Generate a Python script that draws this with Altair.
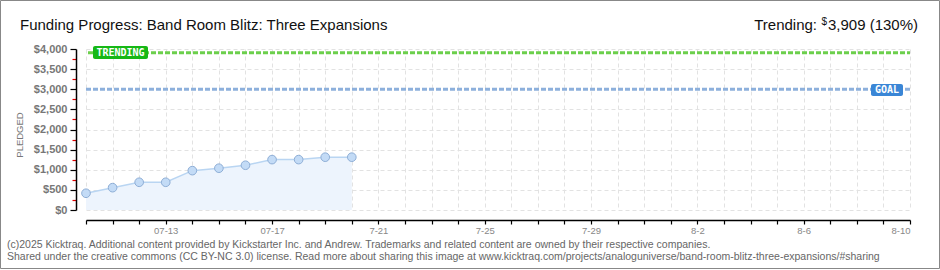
import altair as alt
import pandas as pd
from datetime import datetime, timezone

# ---- data ----
dates = ["2025-07-10", "2025-07-11", "2025-07-12", "2025-07-13", "2025-07-14",
         "2025-07-15", "2025-07-16", "2025-07-17", "2025-07-18", "2025-07-19",
         "2025-07-20"]
pledged = [416, 555, 689, 689, 978, 1038, 1112, 1252, 1252, 1312, 1312]
trending_value = 3909
goal_value = 3000
tick_label_days = ["2025-07-13", "2025-07-17", "2025-07-21", "2025-07-25",
                   "2025-07-29", "2025-08-02", "2025-08-06", "2025-08-10"]
tick_labels = ["07-13", "07-17", "7-21", "7-25", "7-29", "8-2", "8-6", "8-10"]
x_start, x_end = "2025-07-10", "2025-08-10"
title_text = "Funding Progress: Band Room Blitz: Three Expansions"
trend_head = "Trending:"
trend_currency = "$"
trend_amount = "3,909 (130%)"
footer_lines = [
    "(c)2025 Kicktraq. Additional content provided by Kickstarter Inc. and Andrew. Trademarks and related content are owned by their respective companies.",
    "Shared under the creative commons (CC BY-NC 3.0) license. Read more about sharing this image at www.kicktraq.com/projects/analoguniverse/band-room-blitz-three-expansions/#sharing",
]


def ms(s):
    return int(datetime.strptime(s, "%Y-%m-%d").replace(tzinfo=timezone.utc).timestamp() * 1000)


df = pd.DataFrame({"date": [ms(d) for d in dates], "pledged": pledged})

W, H = 824, 161
FONT = "Liberation Sans"

# x ticks every day over the domain
t0, t1 = ms(x_start), ms(x_end)
day_values = list(range(t0, t1 + 1, 86400000))

label_expr = "''"
for k, lab in zip(reversed(tick_label_days), reversed(tick_labels)):
    label_expr = f"datum.value == {ms(k)} ? '{lab}' : ({label_expr})"

x_enc = alt.X(
    "date:Q",
    scale=alt.Scale(domain=[t0, t1], nice=False, zero=False),
    axis=alt.Axis(
        values=day_values, tickCount=100, labelExpr=label_expr, title=None, offset=10,
        domainColor="#000", domainWidth=1.5, tickColor="#000", tickSize=4, tickWidth=1.2,
        labelColor="#888", labelFontSize=9.5, labelFont=FONT, labelPadding=1,
        grid=True, gridColor="#e2e2e2", gridDash=[4, 3], labelOverlap=False,
    ),
)

minor = "datum.value % 500 != 0"
y_enc = alt.Y(
    "pledged:Q",
    scale=alt.Scale(domain=[0, 4000], nice=False),
    axis=alt.Axis(
        values=list(range(0, 4001, 250)), tickCount=100,
        labelExpr=f"{minor} ? '' : '$' + format(datum.value, ',')",
        title=None, offset=10, labelOverlap=False,
        domainColor="#000", domainWidth=1.5,
        tickColor={"condition": {"test": minor, "value": "#e00000"}, "value": "#000"},
        tickSize={"condition": {"test": minor, "value": 4}, "value": 6},
        tickWidth=1.2,
        labelColor="#777", labelFontSize=11, labelFont=FONT, labelFontWeight="bold", labelPadding=3,
        grid=True, gridColor="#e2e2e2", gridDash=[4, 3],
        gridOpacity={"condition": {"test": minor, "value": 0}, "value": 1},
    ),
)

base = alt.Chart(df)

area = base.mark_area(color="#edf4fd", opacity=1).encode(x=x_enc, y=y_enc)
line = base.mark_line(color="#b9d5f2", strokeWidth=1.5).encode(x="date:Q", y="pledged:Q")
points = base.mark_circle(size=75, color="#c3dbf6", stroke="#8eaed6", strokeWidth=1, opacity=1).encode(
    x="date:Q", y="pledged:Q")

ref = pd.DataFrame({"v": [trending_value, goal_value], "k": ["trend", "goal"]})
trend_rule = alt.Chart(ref[ref.k == "trend"]).mark_rule(
    color="#6ccf4c", strokeWidth=3, strokeDash=[5, 2]).encode(
    y="v:Q", x=alt.value(2), x2=alt.value(W))
goal_rule = alt.Chart(ref[ref.k == "goal"]).mark_rule(
    color="#8db0dc", strokeWidth=3, strokeDash=[5, 2]).encode(
    y="v:Q", x=alt.value(0), x2=alt.value(W))

lab = pd.DataFrame({"t": ["TRENDING", "GOAL"]})
trend_box = alt.Chart(lab.iloc[[0]]).mark_rect(color="#16b816", cornerRadius=2).encode(
    x=alt.value(7), x2=alt.value(62), y=alt.value(-3), y2=alt.value(10))
trend_lbl = alt.Chart(lab.iloc[[0]]).mark_text(
    color="white", font="DejaVu Sans Mono", fontSize=10, fontWeight="bold", align="center", baseline="middle").encode(
    x=alt.value(34.5), y=alt.value(3.5), text="t:N")
goal_box = alt.Chart(lab.iloc[[1]]).mark_rect(color="#3a86d6", cornerRadius=2).encode(
    x=alt.value(785), x2=alt.value(817), y=alt.value(35), y2=alt.value(47))
goal_lbl = alt.Chart(lab.iloc[[1]]).mark_text(
    color="white", font="DejaVu Sans Mono", fontSize=10, fontWeight="bold", align="center", baseline="middle").encode(
    x=alt.value(801), y=alt.value(41), text="t:N")

title = alt.Chart(pd.DataFrame({"t": [title_text]})).mark_text(
    align="left", baseline="alphabetic", font=FONT, fontSize=15, color="#111").encode(
    x=alt.value(-66), y=alt.value(-19), text="t:N")
trend_t1 = alt.Chart(pd.DataFrame({"t": [trend_head]})).mark_text(
    align="right", baseline="alphabetic", font=FONT, fontSize=15, color="#111").encode(
    x=alt.value(731), y=alt.value(-19), text="t:N")
trend_t2 = alt.Chart(pd.DataFrame({"t": [trend_currency]})).mark_text(
    align="right", baseline="alphabetic", font=FONT, fontSize=10, color="#111").encode(
    x=alt.value(741), y=alt.value(-24), text="t:N")
trend_t3 = alt.Chart(pd.DataFrame({"t": [trend_amount]})).mark_text(
    align="right", baseline="alphabetic", font=FONT, fontSize=15, color="#111").encode(
    x=alt.value(832), y=alt.value(-19), text="t:N")
pledged_title = alt.Chart(pd.DataFrame({"t": ["PLEDGED"]})).mark_text(
    angle=270, align="center", baseline="middle", font=FONT, fontSize=9.5, color="#777").encode(
    x=alt.value(-66), y=alt.value(86), text="t:N")
foot = pd.DataFrame({"t": footer_lines, "i": [0, 1]})
footer1 = alt.Chart(foot.iloc[[0]]).mark_text(
    align="left", baseline="alphabetic", font=FONT, fontSize=10.5, color="#666").encode(
    x=alt.value(-79), y=alt.value(199), text="t:N")
footer2 = alt.Chart(foot.iloc[[1]]).mark_text(
    align="left", baseline="alphabetic", font=FONT, fontSize=10.5, color="#666").encode(
    x=alt.value(-79), y=alt.value(211), text="t:N")
border = alt.Chart(lab.iloc[[0]]).mark_rect(fill=None, stroke="#888", strokeWidth=1).encode(
    x=alt.value(-85.5), x2=alt.value(853.5), y=alt.value(-48.5), y2=alt.value(219.5))

chart = alt.layer(
    area, line, points, trend_rule, goal_rule, trend_box, trend_lbl, goal_box, goal_lbl,
    title, trend_t1, trend_t2, trend_t3, pledged_title, footer1, footer2, border,
).properties(
    width=W, height=H, autosize="none",
    padding={"left": 86, "top": 49, "right": 30, "bottom": 60},
    background="white",
).configure_view(stroke=None)

chart.save("out.html", embed_options={"renderer": "svg", "actions": False})
